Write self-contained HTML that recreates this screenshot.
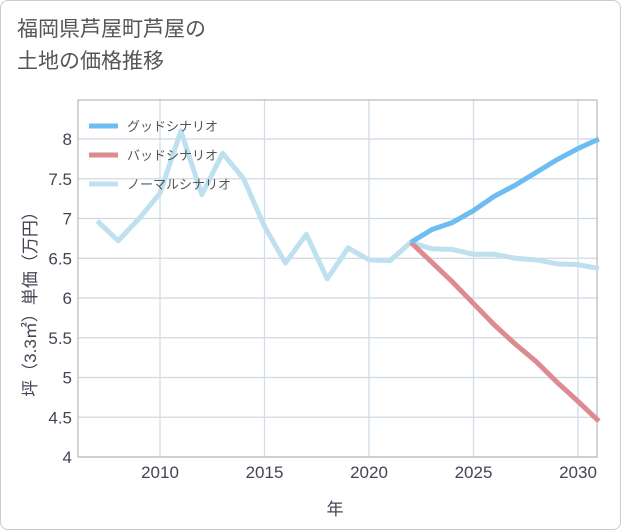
<!DOCTYPE html>
<html><head><meta charset="utf-8"><style>
body{margin:0;background:#fff;font-family:"Liberation Sans","Noto Sans CJK JP",sans-serif}
#card{position:absolute;left:0;top:0;width:619px;height:528px;border:1px solid #ccc;border-radius:8px;background:#fff}
#title{position:absolute;left:17px;top:14px;font-size:21px;line-height:32px;color:#555;font-family:"Liberation Sans","Noto Sans CJK JP",sans-serif}
svg{position:absolute;left:0;top:0}
</style></head><body>
<div id="card"></div>
<div id="title">福岡県芦屋町芦屋の<br>土地の価格推移</div>
<svg id="chart" width="621" height="530"></svg>
<script>
const years=[2007,2008,2009,2010,2011,2012,2013,2014,2015,2016,2017,2018,2019,2020,2021,2022,2023,2024,2025,2026,2027,2028,2029,2030,2031];
const normal=[6.97,6.72,7.0,7.32,8.1,7.3,7.82,7.5,6.9,6.44,6.8,6.24,6.63,6.48,6.47,6.7,6.62,6.61,6.55,6.55,6.5,6.48,6.43,6.42,6.37];
const futureYears=[2022,2023,2024,2025,2026,2027,2028,2029,2030,2031];
const good=[6.7,6.86,6.95,7.1,7.28,7.42,7.58,7.74,7.88,8.0];
const bad=[6.7,6.45,6.2,5.93,5.66,5.42,5.2,4.94,4.7,4.45];
const yTicks=[4,4.5,5,5.5,6,6.5,7,7.5,8];
const xTicks=[2010,2015,2020,2025,2030];
const L=78,R=597,T=100,B=457;
const x=v=>160+(v-2010)*20.9;
const y=v=>457-(v-4)*79.5;
const svg=document.getElementById('chart');
const NS='http://www.w3.org/2000/svg';
function mk(t,a){const e=document.createElementNS(NS,t);for(const k in a)e.setAttribute(k,a[k]);svg.appendChild(e);return e;}
yTicks.forEach(v=>{
 const l=mk('line',{x1:L,x2:R,y1:y(v),y2:y(v),stroke:'#d0d8e0','stroke-width':1.3});
 
 
 const t=mk('text',{x:L-6,y:y(v)+6,'text-anchor':'end','font-size':17,fill:'#445'});
 t.textContent=v;
 
 
});
xTicks.forEach(v=>{
 const l=mk('line',{x1:x(v),x2:x(v),y1:T,y2:B,stroke:'#d0dde6','stroke-width':1.3});
 
 
 const t=mk('text',{x:x(v),y:B+21,'text-anchor':'middle','font-size':17,fill:'#445'});
 t.textContent=v;
 
 
});
const fr=mk('rect',{x:L,y:T,width:R-L,height:B-T,fill:'none',stroke:'#aaa','stroke-width':1});


function line(xs,vs,c,name){
 const p=mk('polyline',{points:xs.map((v,i)=>x(v)+','+y(vs[i])).join(' '),fill:'none',stroke:c,'stroke-width':5,'stroke-linejoin':'round'});
 
 
}
line(years,normal,'#bfe0ee','normal-scenario-line');
line(futureYears,bad,'#dd8a90','bad-scenario-line');
line(futureYears,good,'#6ebdf2','good-scenario-line');
const leg=[['グッドシナリオ','#6ebdf2'],['バッドシナリオ','#dd8a90'],['ノーマルシナリオ','#bfe0ee']];
leg.forEach((d,i)=>{
 const yy=126+i*29;
 const s=mk('line',{x1:89,x2:118,y1:yy,y2:yy,stroke:d[1],'stroke-width':5});
 
 
 const t=mk('text',{x:127,y:yy+5,'font-size':13,fill:'#555'});
 t.textContent=d[0];
 
 
});
const xt=mk('text',{x:335,y:515,'text-anchor':'middle','font-size':17,fill:'#445'});
xt.textContent='年';


const yt=mk('text',{x:0,y:0,'text-anchor':'middle','font-size':17,fill:'#445',transform:'translate(36,300) rotate(-90)'});
yt.textContent='坪（3.3㎡）単価（万円）';


</script>
</body></html>
